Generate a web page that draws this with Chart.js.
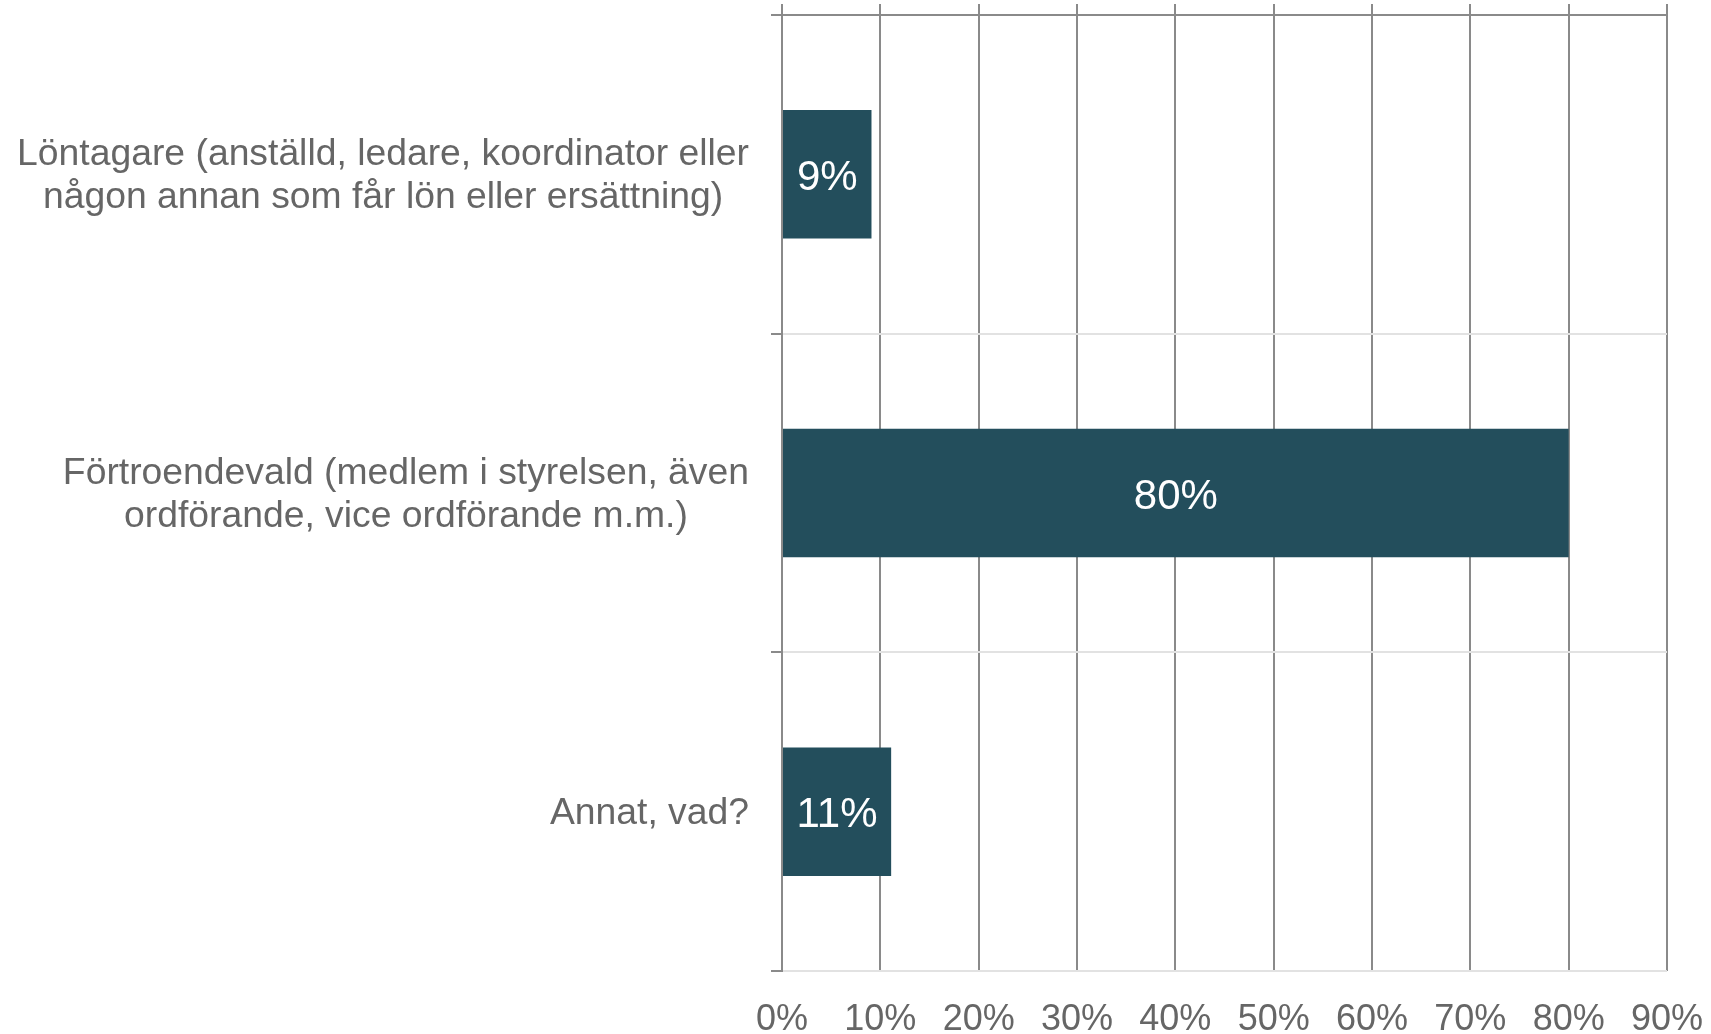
<!DOCTYPE html>
<html>
<head>
<meta charset="utf-8">
<script src="https://cdn.jsdelivr.net/npm/chart.js@4"></script>
<style>
  body { margin: 0; background: #fff; }
  #wrap { width: 1711px; height: 1034px; }
</style>
</head>
<body>
<div id="wrap"><canvas id="roleChart"></canvas></div>
<script>
// categories (each label split in lines as in the original)
const categories = [
    ['Löntagare (anställd, ledare, koordinator eller', 'någon annan som får lön eller ersättning)'],
    ['Förtroendevald (medlem i styrelsen, även', 'ordförande, vice ordförande m.m.)'],
    ['Annat, vad?']
];
const shares = [9.1, 80.0, 11.1];
const xTicks = [0, 10, 20, 30, 40, 50, 60, 70, 80, 90];

const FONT = '"Liberation Sans", Arial, sans-serif';
const TEXT = '#666666';
const DARK = '#8a8a8a';
const LIGHT = '#e2e2e2';

// y labels: each label is a centred block, right aligned on its widest line
const categoryLabels = {
    id: 'categoryLabels',
    afterDraw(chart) {
        const scale = chart.scales.y;
        const ctx = chart.ctx;
        const right = scale.right - 11 - 22;
        const lineH = 43.5;
        ctx.save();
        ctx.font = '37.3px ' + FONT;
        ctx.fillStyle = TEXT;
        ctx.textAlign = 'center';
        ctx.textBaseline = 'middle';
        categories.forEach((lines, i) => {
            const cy = scale.getPixelForValue(i);
            const widest = Math.max(...lines.map(l => ctx.measureText(l).width));
            const cx = right - widest / 2;
            const y0 = cy - (lines.length - 1) * lineH / 2 + 2;
            lines.forEach((l, j) => ctx.fillText(l, cx, y0 + j * lineH));
        });
        ctx.restore();
    }
};

// value labels inside the bars
const barLabels = {
    id: 'barLabels',
    afterDatasetsDraw(chart) {
        const ctx = chart.ctx;
        const meta = chart.getDatasetMeta(0);
        ctx.save();
        ctx.font = '42px ' + FONT;
        ctx.fillStyle = '#ffffff';
        ctx.textAlign = 'center';
        ctx.textBaseline = 'middle';
        meta.data.forEach((bar, i) => {
            const cx = (bar.x + bar.base) / 2;
            ctx.fillText(Math.round(shares[i]) + '%', cx, bar.y + 4);
        });
        ctx.restore();
    }
};

new Chart(document.getElementById('roleChart'), {
    type: 'bar',
    data: {
        labels: categories,
        datasets: [{
            data: shares,
            backgroundColor: '#234e5c',
            borderWidth: 0,
            barPercentage: 0.403,
            categoryPercentage: 1
        }]
    },
    options: {
        indexAxis: 'y',
        responsive: true,
        maintainAspectRatio: false,
        animation: false,
        layout: { padding: { top: 4, right: 44, left: 0, bottom: 0 } },
        plugins: {
            legend: { display: false },
            tooltip: { enabled: false }
        },
        scales: {
            x: {
                type: 'linear',
                position: 'bottom',
                min: 0,
                max: 90,
                afterBuildTicks: axis => { axis.ticks = xTicks.map(v => ({ value: v })); },
                afterFit: axis => { axis.height = 63; },
                // invisible tick marks push the labels down without widening the side padding
                grid: { color: DARK, lineWidth: 2, tickLength: 27, tickColor: 'rgba(0,0,0,0)' },
                border: { display: false },
                ticks: {
                    padding: 0,
                    color: TEXT,
                    font: { family: FONT, size: 36 },
                    callback: v => v + '%'
                }
            },
            x2: {
                type: 'linear',
                position: 'top',
                min: 0,
                max: 90,
                afterBuildTicks: axis => { axis.ticks = xTicks.map(v => ({ value: v })); },
                grid: { drawOnChartArea: false, color: DARK, lineWidth: 2, tickLength: 11 },
                border: { display: true, color: DARK, width: 2 },
                ticks: { display: false }
            },
            y: {
                afterFit: axis => { axis.width = 782; },
                grid: {
                    offset: true,
                    lineWidth: 2,
                    tickLength: 11,
                    tickColor: DARK,
                    color: c => c.index === 0 ? DARK : LIGHT
                },
                border: { display: true, color: DARK, width: 2, z: 1 },
                ticks: { display: false }
            }
        }
    },
    plugins: [categoryLabels, barLabels]
});
</script>
</body>
</html>
